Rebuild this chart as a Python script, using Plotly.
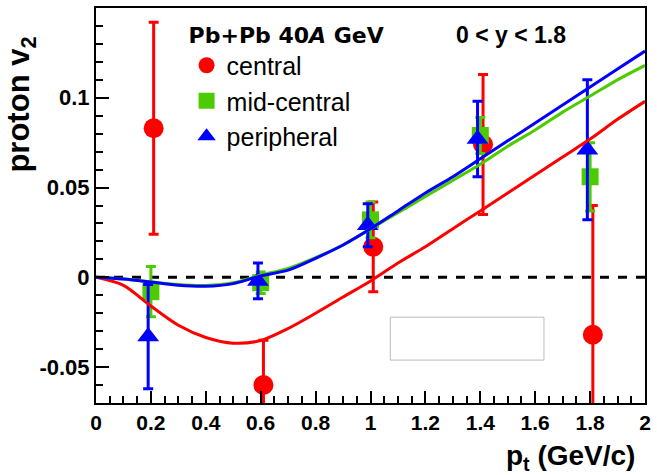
import plotly.graph_objects as go

# ---- data points ----
pt = [0.2, 0.6, 1.0, 1.4, 1.8]
x_shift_central = 0.01
x_shift_peripheral = -0.01

v2_central = [0.083, -0.060, 0.017, 0.074, -0.032]
err_central = [0.059, 0.025, 0.025, 0.039, 0.072]

v2_midcentral = [-0.008, -0.003, 0.032, 0.079, 0.056]
err_midcentral = [0.014, 0.006, 0.010, 0.010, 0.019]

v2_peripheral = [-0.033, -0.002, 0.029, 0.077, 0.071]
err_peripheral = [0.029, 0.010, 0.012, 0.021, 0.039]

# ---- fit curves ----
curve_pt = [0.0, 0.1, 0.2, 0.3, 0.4, 0.5, 0.6, 0.7, 0.8, 0.9, 1.0,
            1.1, 1.2, 1.3, 1.4, 1.5, 1.6, 1.7, 1.8, 1.9, 2.0]
curve_central = [0.0, -0.0045, -0.016, -0.0267, -0.0335, -0.0367, -0.0352, -0.0285,
                 -0.020, -0.011, -0.002, 0.008, 0.017, 0.027, 0.037, 0.047,
                 0.057, 0.067, 0.077, 0.088, 0.098]
curve_midcentral = [0.0, -0.001, -0.0025, -0.004, -0.0045, -0.003, 0.0012, 0.005,
                    0.011, 0.018, 0.027, 0.036, 0.045, 0.054, 0.063, 0.073,
                    0.082, 0.092, 0.101, 0.110, 0.118]
curve_peripheral = [0.0, -0.001, -0.0026, -0.0044, -0.005, -0.0035, 0.0008, 0.004,
                    0.0106, 0.018, 0.027, 0.037, 0.047, 0.056, 0.066, 0.076,
                    0.086, 0.096, 0.106, 0.116, 0.126]

x_ticks = [0, 0.2, 0.4, 0.6, 0.8, 1.0, 1.2, 1.4, 1.6, 1.8, 2.0]
x_ticklabels = ["0", "0.2", "0.4", "0.6", "0.8", "1", "1.2", "1.4", "1.6", "1.8", "2"]
y_ticks = [-0.05, 0, 0.05, 0.1]
y_ticklabels = ["-0.05", "0", "0.05", "0.1"]

RED = "#ff0000"
GREEN = "#4ccc00"
BLUE = "#0000ff"
FONT = "Liberation Sans, Arial, sans-serif"
FONT_TITLE = "DejaVu Sans, sans-serif"

fig = go.Figure()

def pts(xs, shift, ys, errs, color, symbol, size, name):
    fig.add_trace(go.Scatter(
        x=[v + shift for v in xs], y=ys, mode="markers", name=name,
        marker=dict(color=color, symbol=symbol, size=size, line=dict(width=0)),
        error_y=dict(type="data", array=errs, color=color, thickness=3, width=5),
        showlegend=True,
    ))

pts(pt, x_shift_central, v2_central, err_central, RED, "circle", 20, "central")
pts(pt, 0.0, v2_midcentral, err_midcentral, GREEN, "square", 17, "mid-central")
pts(pt, x_shift_peripheral, v2_peripheral, err_peripheral, BLUE, "triangle-up", 19, "peripheral")

for ys, color in [(curve_central, RED), (curve_midcentral, GREEN), (curve_peripheral, BLUE)]:
    fig.add_trace(go.Scatter(x=curve_pt, y=ys, mode="lines", showlegend=False,
                             line=dict(color=color, width=3, shape="spline", smoothing=0.8)))

# zero dashed line
fig.add_shape(type="line", xref="paper", yref="y", x0=0, x1=1, y0=0, y1=0,
              line=dict(color="black", width=3, dash="dash"), layer="below")
# empty leftover box
fig.add_shape(type="rect", xref="x", yref="y", x0=1.072, x1=1.632, y0=-0.0222, y1=-0.0461,
              line=dict(color="#bbbbbb", width=1), fillcolor="rgba(0,0,0,0)")

fig.update_layout(
    width=657, height=475,
    margin=dict(l=96, r=6, t=8, b=72),
    paper_bgcolor="white", plot_bgcolor="white",
    font=dict(family=FONT, color="black"),
    legend=dict(
        x=0.165, y=0.985, xanchor="left", yanchor="top",
        bgcolor="rgba(0,0,0,0)", borderwidth=0,
        font=dict(size=25, family=FONT),
        title=dict(text="<b>Pb+Pb 40<i>A</i> GeV</b>", font=dict(size=22, family=FONT_TITLE)),
        itemsizing="trace",
    ),
    xaxis=dict(
        range=[0, 2], tickvals=x_ticks, ticktext=x_ticklabels,
        showgrid=False, zeroline=False, showline=True, mirror=True,
        linecolor="black", linewidth=2, ticks="inside", ticklen=12, tickwidth=2,
        tickcolor="black",
        tickfont=dict(size=21, family=FONT, weight="bold"),
        minor=dict(dtick=0.05, ticks="inside", ticklen=7, tickwidth=2, tickcolor="black"),
    ),
    yaxis=dict(
        range=[-0.07, 0.15], tickvals=y_ticks, ticktext=y_ticklabels,
        showgrid=False, zeroline=False, showline=True, mirror=True,
        linecolor="black", linewidth=2, ticks="inside", ticklen=13, tickwidth=2,
        tickcolor="black",
        tickfont=dict(size=22, family=FONT, weight="bold"),
        minor=dict(dtick=0.01, tick0=0, ticks="inside", ticklen=7, tickwidth=2, tickcolor="black"),
    ),
    annotations=[
        dict(text="<b>0 < y < 1.8</b>", xref="paper", yref="paper", x=0.652, y=0.932,
             xanchor="left", yanchor="middle", showarrow=False, font=dict(size=23, family=FONT)),
        dict(text="<b>proton v<sub>2</sub></b>", xref="paper", yref="paper", x=-0.137, y=0.755,
             xanchor="center", yanchor="middle", textangle=-90, showarrow=False,
             font=dict(size=31, family=FONT)),
        dict(text="<b>p<sub>t</sub> (GeV/c)</b>", xref="paper", yref="paper", x=0.985, y=-0.139,
             xanchor="right", yanchor="middle", showarrow=False, font=dict(size=28, family=FONT)),
    ],
)

fig.write_html("out.html")
